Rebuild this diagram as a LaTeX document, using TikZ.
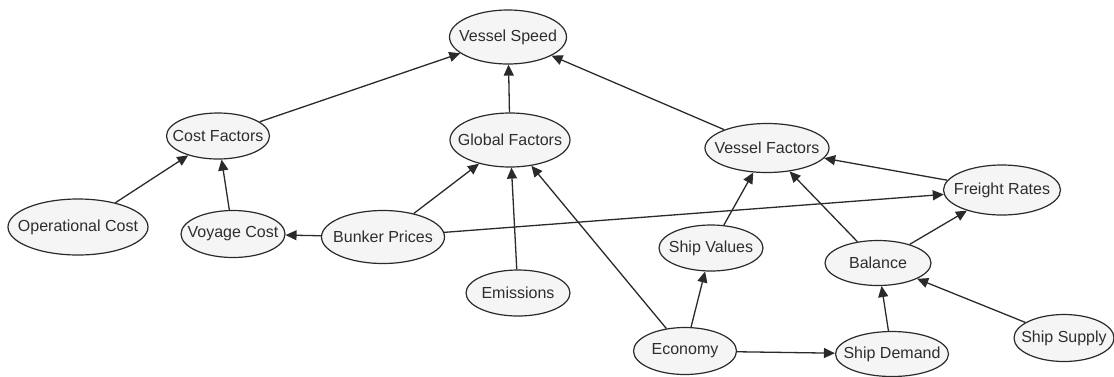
\documentclass[tikz,border=0pt]{standalone}
\usepackage{fontspec}
\setmainfont{Liberation Sans}
\usetikzlibrary{shapes.geometric,arrows.meta}
\definecolor{edgecol}{HTML}{2A2A2A}
\definecolor{nodefill}{HTML}{F5F5F5}
\definecolor{textcol}{HTML}{2E2E2E}
\tikzset{
  nd/.style={ellipse, draw=edgecol, line width=1.2pt, fill=nodefill, inner sep=0pt},
  every label/.style={text=textcol, font=\fontsize{16}{19}\selectfont, inner sep=0pt},
  link/.style={draw=edgecol, line width=1.3pt, -{Triangle[length=11pt,width=10pt]}}
}
\begin{document}
\begin{tikzpicture}[x=1pt,y=-1pt]
\useasboundingbox (0,0) rectangle (1114,376);
\node[nd, minimum width=117pt, minimum height=54pt, label={center:Vessel Speed}] (vs) at (508,37) {};
\node[nd, minimum width=103pt, minimum height=46pt, label={center:Cost Factors}] (cf) at (218,136) {};
\node[nd, minimum width=120pt, minimum height=54pt, label={center:Global Factors}] (gf) at (510,140) {};
\node[nd, minimum width=124pt, minimum height=49pt, label={center:Vessel Factors}] (vf) at (767,148) {};
\node[nd, minimum width=117pt, minimum height=50pt, label={center:Freight Rates}] (fr) at (1002,190) {};
\node[nd, minimum width=140pt, minimum height=56pt, label={center:Operational Cost}] (oc) at (78,227) {};
\node[nd, minimum width=104pt, minimum height=47pt, label={center:Voyage Cost}] (vc) at (233,234) {};
\node[nd, minimum width=123pt, minimum height=53pt, label={center:Bunker Prices}] (bp) at (383,237) {};
\node[nd, minimum width=104pt, minimum height=46pt, label={center:Emissions}] (em) at (518,293) {};
\node[nd, minimum width=104pt, minimum height=46pt, label={center:Ship Values}] (sv) at (711,248) {};
\node[nd, minimum width=106pt, minimum height=45pt, label={center:Balance}] (ba) at (878,263) {};
\node[nd, minimum width=103pt, minimum height=47pt, label={center:Economy}] (ec) at (685,351) {};
\node[nd, minimum width=113pt, minimum height=45pt, label={center:Ship Demand}] (sd) at (892,354) {};
\node[nd, minimum width=100pt, minimum height=47pt, label={center:Ship Supply}] (ss) at (1064,338) {};
\draw[link] (cf) -- (vs);
\draw[link] (gf) -- (vs);
\draw[link] (vf) -- (vs);
\draw[link] (oc) -- (cf);
\draw[link] (vc) -- (cf);
\draw[link] (bp) -- (vc);
\draw[link] (bp) -- (gf);
\draw[link] (em) -- (gf);
\draw[link] (ec) -- (gf);
\draw[link] (bp) -- (fr);
\draw[link] (fr) -- (vf);
\draw[link] (sv) -- (vf);
\draw[link] (ba) -- (vf);
\draw[link] (ba) -- (fr);
\draw[link] (ec) -- (sv);
\draw[link] (ec) -- (sd);
\draw[link] (sd) -- (ba);
\draw[link] (ss) -- (ba);
\end{tikzpicture}
\end{document}
